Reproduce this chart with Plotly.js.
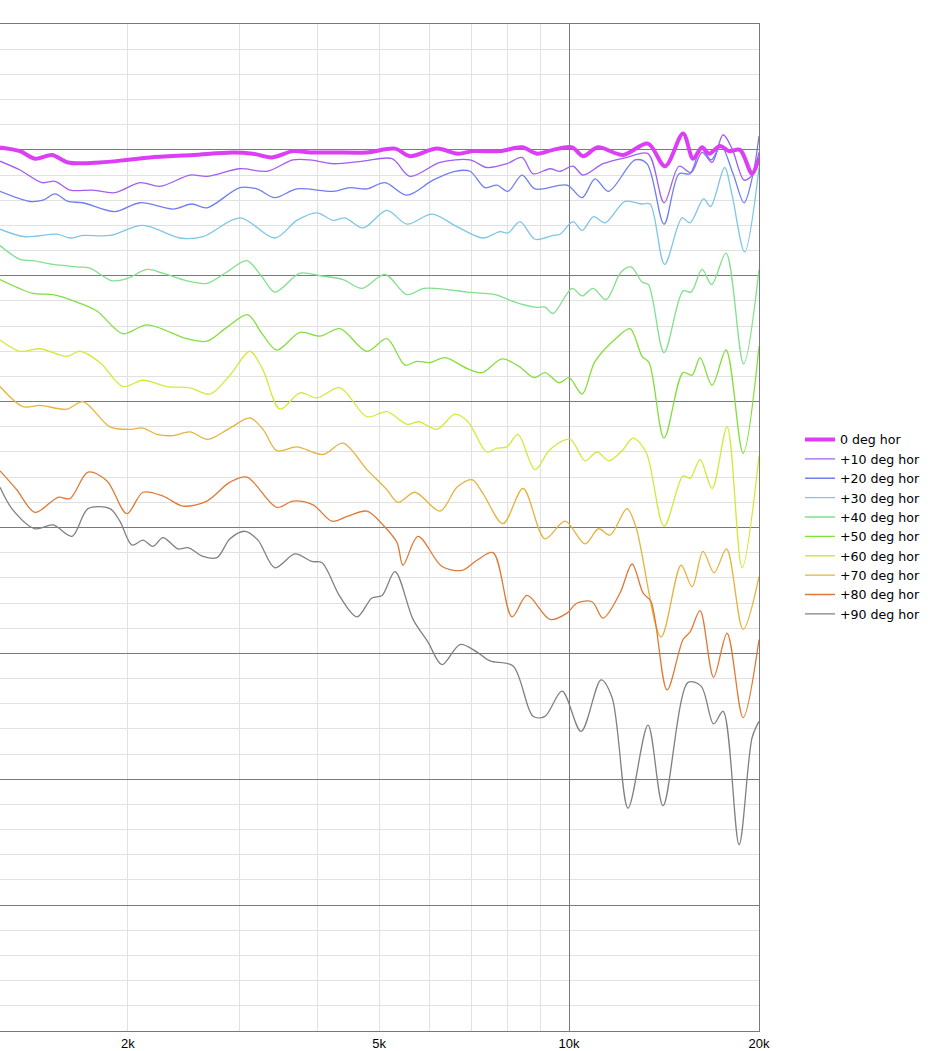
<!DOCTYPE html>
<html>
<head>
<meta charset="utf-8">
<script src="https://cdn.plot.ly/plotly-3.0.1.min.js"></script>
<style>
html, body { margin: 0; padding: 0; background: #ffffff; }
#chart { width: 930px; height: 1051px; }
</style>
</head>
<body>
<div id="chart"></div>
<script>
// ---- Data (frequency in Hz, level in dB SPL) ----
const seriesNames = ['0 deg hor', '+10 deg hor', '+20 deg hor', '+30 deg hor', '+40 deg hor',
                     '+50 deg hor', '+60 deg hor', '+70 deg hor', '+80 deg hor', '+90 deg hor'];

const freq0 = [1254,1349,1425,1516,1607,1806,1992,2167,2536,2934,3156,3383,3652,3886,4226,4783,5299,5598,6175,6668,7045,7774,8424,8896,9434,10111,10525,11115,12180,13339,14195,15161,15724,16249,16670,17352,17931,18666,19501,20000];
const spl0  = [90.2,89.9,89.3,89.6,89.0,89.0,89.2,89.4,89.6,89.8,89.7,89.4,89.9,89.8,89.8,89.8,90.1,89.5,90.1,89.7,89.9,89.9,90.2,89.7,90.0,90.2,89.5,90.2,89.6,90.5,88.7,91.3,89.3,90.2,89.7,90.3,89.9,90.0,88.1,89.4];

const freq10 = [1254,1349,1462,1533,1619,1760,1907,2090,2248,2508,2668,3010,3321,3652,3886,4226,4715,5242,5598,6245,6968,7412,7973,8424,8770,9331,9678,10148,10525,11322,12355,13339,14145,14941,15610,16249,16853,17543,18129,18940,19501,20000];
const spl10  = [89.1,88.4,87.4,87.5,86.8,86.8,86.6,87.4,87.1,88.0,87.9,88.5,88.3,89.2,89.2,88.9,89.1,89.3,87.9,89.0,89.2,88.6,88.9,89.4,88.1,88.5,88.3,88.7,88.0,88.9,89.4,89.7,85.8,88.7,88.2,89.8,89.0,91.2,90.1,87.6,88.0,89.8];

const freq20 = [1254,1399,1467,1533,1607,1697,1907,2090,2357,2526,2668,3010,3202,3419,3704,4226,4497,4783,5109,5535,6087,6597,6968,7359,7688,8002,8424,8833,9926,10487,10996,11546,12724,13291,14145,14941,15553,16190,16792,17416,18195,18940,19573,20000];
const spl20  = [86.7,85.9,86.0,86.5,85.9,85.8,85.1,85.8,85.3,85.7,85.4,87.0,86.9,86.2,86.9,86.7,87.0,86.9,87.4,86.4,87.6,88.3,88.3,87.0,87.2,86.7,88.0,86.9,87.2,86.2,87.7,86.7,89.2,88.9,84.1,88.1,88.1,90.1,89.2,90.3,88.1,85.8,88.1,91.1];

const freq30 = [1254,1374,1544,1619,1697,1873,2113,2418,2630,3010,3419,3704,3985,4226,4415,4715,5145,5535,6065,6644,7307,7774,8002,8363,8833,9434,9678,10148,10487,10936,11404,12268,13054,13441,14171,15106,15553,16338,16762,17640,18129,18976,20000];
const spl30  = [83.7,83.1,83.3,83.0,83.2,83.2,84.0,83.0,83.1,84.6,83.0,84.4,85.0,84.4,84.6,83.8,85.2,84.1,84.9,83.9,83.0,83.5,83.4,84.3,82.9,83.2,83.3,84.3,83.6,84.7,84.2,85.9,85.7,85.7,80.9,84.6,84.2,86.1,85.5,88.6,86.4,81.9,88.6];

const freq40 = [1254,1349,1414,1522,1661,1741,1887,1999,2144,2273,2480,2668,2870,3087,3262,3419,3747,4030,4384,4698,5109,5535,5891,6428,6915,7633,8211,8833,9161,9434,10111,10487,10917,11446,12091,12541,13054,13361,14145,15161,15610,16249,16823,17734,18905,20000];
const spl40  = [82.4,81.3,81.2,80.9,80.7,80.6,79.6,79.8,80.5,80.2,79.6,79.4,80.3,81.2,79.9,78.7,80.2,80.0,79.7,79.0,80.1,78.5,79.0,78.9,78.7,78.5,77.9,77.5,77.5,77.0,79.0,78.4,79.0,78.1,80.3,80.7,79.5,79.3,73.9,78.8,78.7,80.5,79.3,81.8,73.0,80.5];

const freq50 = [1254,1414,1522,1661,1786,1963,2144,2480,2668,2870,3098,3262,3444,3747,4030,4336,4783,5145,5496,5741,6021,6359,6915,7280,7831,8332,8802,9161,9643,10002,10487,10996,11912,12495,13054,13392,14145,15161,15667,16131,16853,17734,18871,20000];
const spl50  = [79.7,78.6,78.5,77.9,77.2,75.4,76.1,75.0,74.8,75.9,76.9,75.4,74.1,75.5,75.2,75.8,74.0,75.0,72.9,73.2,73.1,73.5,72.6,72.3,73.4,72.8,71.9,72.3,71.5,71.9,70.6,73.2,75.1,75.8,73.6,73.1,67.1,72.3,72.1,73.5,71.3,74.1,65.9,74.4];

const freq60 = [1254,1349,1451,1601,1679,1806,1963,2113,2306,2508,2698,2902,3122,3274,3483,3747,3985,4336,4783,5145,5535,5783,6175,6597,6915,7412,7688,7973,8299,8833,9331,10038,10602,11074,11568,12135,12632,13244,14145,15161,15553,16131,16853,17801,18803,20000];
const spl60  = [74.9,74.0,74.2,73.6,74.0,73.1,71.2,71.7,71.2,71.1,70.6,72.1,74.0,72.5,69.4,70.7,70.3,71.1,68.8,69.2,68.2,68.4,67.8,69.0,68.4,66.0,66.3,66.4,67.4,64.6,66.2,67.0,65.3,66.0,65.3,66.1,67.1,66.0,60.1,64.1,63.9,65.4,63.1,68.0,56.8,65.7];

const freq70 = [1254,1364,1451,1601,1697,1873,2015,2113,2223,2357,2508,2677,2902,3122,3274,3444,3704,4074,4384,4783,5145,5359,5700,6245,6644,7019,7307,7860,8455,9161,9855,10602,11135,11615,12355,12770,13991,15051,15667,16308,16977,17767,18871,20000];
const spl70  = [71.2,69.6,69.7,69.4,70.0,68.0,67.8,67.9,67.4,67.3,67.6,67.0,67.9,68.7,67.8,66.1,66.4,65.8,66.7,64.6,63.0,62.0,62.8,61.3,63.2,63.8,62.7,60.3,63.1,59.1,60.5,58.7,59.9,59.4,61.5,60.0,51.3,57.0,55.3,58.1,56.4,58.3,51.9,56.1];

const freq80 = [1254,1333,1425,1550,1619,1729,1853,1992,2113,2273,2445,2668,2902,3087,3444,3652,3929,4211,4465,4783,5072,5339,5456,5764,6291,6767,7148,7579,8122,8580,9331,9926,10298,10877,11322,12047,12586,13102,13490,14301,15161,15553,16131,16947,17801,18871,20000];
const spl80  = [64.5,63.0,61.2,62.4,62.3,64.4,63.7,61.1,62.8,62.5,61.7,62.1,63.6,64.0,61.6,62.1,61.8,60.5,60.9,61.3,60.2,58.8,57.0,59.3,56.9,56.6,57.4,58.0,52.9,54.6,52.7,53.2,54.0,54.1,52.8,54.8,57.1,54.8,54.1,47.1,51.1,51.7,53.4,48.1,51.6,44.9,51.1];

const freq90 = [1254,1314,1425,1522,1631,1729,1873,1942,2030,2113,2191,2273,2400,2490,2630,2768,2902,3065,3214,3419,3678,3914,4060,4336,4613,4872,5054,5299,5660,5977,6291,6718,7148,7496,8152,8770,9161,9749,10449,11240,11700,12404,13339,14093,15440,16190,16947,17543,18598,19501,20000];
const spl90  = [63.2,61.4,59.9,60.2,59.3,61.5,61.5,60.5,58.6,59.0,58.5,59.2,58.3,58.4,57.7,57.6,59.1,59.7,59.0,56.8,57.9,57.3,57.2,54.5,52.9,54.4,54.6,56.5,52.7,50.9,49.1,50.7,50.1,49.4,49.0,45.0,45.0,47.0,43.8,47.9,46.5,37.7,44.3,37.9,47.7,47.4,44.4,45.4,34.8,43.3,44.6];

// Axis ticks
const xTickVals = [2000, 5000, 10000, 20000];
const xTickText = ['2k', '5k', '10k', '20k'];
const xMinorVals = [2000, 3000, 4000, 5000, 6000, 7000, 8000, 9000];
const xMajorVals = [10000];
const freqMin = 1254, freqMax = 20000;
const splMin = 20, splMax = 100;

// ---- Styles ----
const seriesColors = ['#dc3ef6', '#a25ef4', '#6f7ef0', '#7cc6e6', '#80e08c',
                      '#82df3e', '#d5e83a', '#e5b33e', '#df7a36', '#808080'];
const seriesWidths = [4, 1.3, 1.3, 1.3, 1.3, 1.3, 1.3, 1.3, 1.3, 1.3];

const freqs = [freq0, freq10, freq20, freq30, freq40, freq50, freq60, freq70, freq80, freq90];
const spls  = [spl0, spl10, spl20, spl30, spl40, spl50, spl60, spl70, spl80, spl90];

const traces = seriesNames.map((name, i) => ({
  type: 'scatter',
  mode: 'lines',
  name: name,
  x: freqs[i],
  y: spls[i],
  xaxis: i === 0 ? 'x2' : 'x',
  yaxis: 'y',
  line: { color: seriesColors[i], width: seriesWidths[i], shape: 'spline', smoothing: 0.9 },
  hoverinfo: 'skip'
}));

const xRange = [Math.log10(freqMin), Math.log10(freqMax)];
const gridDark = '#7a7a7a';
const gridLight = '#e1e1e1';

const layout = {
  width: 930,
  height: 1051,
  margin: { l: 0, r: 171, t: 24, b: 20, pad: 0 },
  paper_bgcolor: '#ffffff',
  plot_bgcolor: '#ffffff',
  showlegend: true,
  hovermode: false,
  legend: {
    x: 1.054, xanchor: 'left',
    y: 0.602, yanchor: 'top',
    font: { family: 'DejaVu Sans', size: 12.6, color: '#000000' },
    bgcolor: 'rgba(0,0,0,0)',
    borderwidth: 0,
    itemwidth: 30,
    tracegroupgap: 0
  },
  xaxis: {
    type: 'log',
    range: xRange,
    tickmode: 'array',
    tickvals: xTickVals,
    ticktext: xTickText,
    showgrid: false,
    zeroline: false,
    showline: true,
    mirror: true,
    linecolor: gridDark,
    linewidth: 1,
    ticks: '',
    ticklen: 0,
    tickfont: { family: 'Liberation Sans', size: 13, color: '#000000' },
    minor: { tickmode: 'array', tickvals: xMinorVals, showgrid: true, gridcolor: gridLight, gridwidth: 1, ticks: '' },
    fixedrange: true
  },
  xaxis2: {
    type: 'log',
    range: xRange,
    overlaying: 'x',
    anchor: 'y',
    side: 'bottom',
    tickmode: 'array',
    tickvals: xMajorVals,
    showticklabels: false,
    showgrid: true,
    gridcolor: gridDark,
    gridwidth: 1,
    zeroline: false,
    showline: false,
    ticks: '',
    fixedrange: true
  },
  yaxis: {
    range: [splMin, splMax],
    tick0: 0,
    dtick: 10,
    showgrid: true,
    gridcolor: gridDark,
    gridwidth: 1,
    minor: { dtick: 2, showgrid: true, gridcolor: gridLight, gridwidth: 1, ticks: '' },
    showticklabels: false,
    ticks: '',
    zeroline: false,
    side: 'right',
    showline: true,
    linecolor: gridDark,
    linewidth: 1,
    fixedrange: true
  }
};

Plotly.newPlot('chart', traces, layout, { displayModeBar: false, staticPlot: true });
</script>
</body>
</html>
